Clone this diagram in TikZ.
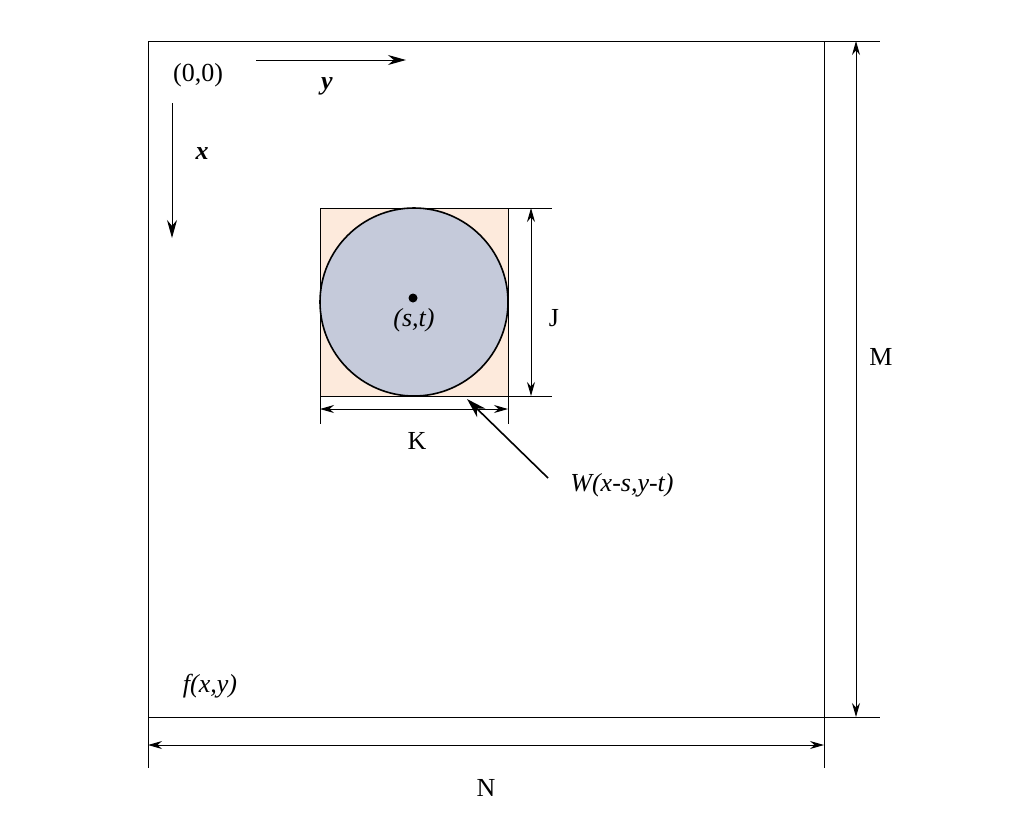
\documentclass[tikz,border=0pt]{standalone}
\usepackage{fontspec}
\setmainfont{Liberation Serif}
\usetikzlibrary{arrows.meta}
\begin{document}
\begin{tikzpicture}[x=1pt,y=-1pt,
  thinl/.style={line width=0.6pt},
  dim/.style={line width=1pt,{Stealth[length=14pt,width=8pt]}-{Stealth[length=14pt,width=8pt]}},
  lab/.style={font=\fontsize{26}{28}\selectfont}]
\useasboundingbox (0,0) rectangle (1024,839);
\draw[thinl] (148,41) rectangle (824,717);
\coordinate (mt) at (856,41); \coordinate (mb) at (856,717);
\draw[thinl] (824,41) -- (880,41) (824,717) -- (880,717);
\draw[dim] (mt) -- (mb);
\node[lab] (M) at (881,357) {M};
\coordinate (nl) at (148,745); \coordinate (nr) at (824,745);
\draw[thinl] (148,717) -- (148,768) (824,717) -- (824,768);
\draw[dim] (nl) -- (nr);
\node[lab] (N) at (486,788) {N};
\node[lab] (o) at (198,75) {(0,0)};
\coordinate (ya) at (256,60); \coordinate (yb) at (406,60);
\draw[line width=1pt,-{Stealth[length=18pt,width=10pt]}] (ya) -- (yb);
\node[lab] (yl) at (327,86) {\textbf{\textit{y}}};
\coordinate (xa) at (172,103); \coordinate (xb) at (172,238);
\draw[line width=1pt,-{Stealth[length=18pt,width=10pt]}] (xa) -- (xb);
\node[lab] (xl) at (202,154) {\textbf{\textit{x}}};
\draw[thinl,fill={rgb,255:red,253;green,234;blue,220}] (320,208) rectangle (508,396);
\draw[line width=1.6pt,fill={rgb,255:red,197;green,202;blue,218}] (414,302) circle (94);
\fill (413,298) circle (4.5);
\node[lab] (st) at (414,320) {\textit{(s,t)}};
\draw[thinl] (508,208) -- (552,208) (508,396) -- (552,396);
\coordinate (jt) at (531,208); \coordinate (jb) at (531,396);
\draw[dim] (jt) -- (jb);
\node[lab] (J) at (554,318) {J};
\draw[thinl] (320,396) -- (320,424) (508,396) -- (508,424);
\coordinate (kl) at (320,409); \coordinate (kr) at (508,409);
\draw[dim] (kl) -- (kr);
\node[lab] (K) at (417,441) {K};
\coordinate (wa) at (548,478); \coordinate (wb) at (467,399);
\draw[line width=1.6pt,-{Stealth[length=20pt,width=12pt]}] (wa) -- (wb);
\node[lab] (W) at (622,485) {\textit{W(x-s,y-t)}};
\node[lab] (f) at (210,686) {\textit{f(x,y)}};
\end{tikzpicture}
\end{document}
